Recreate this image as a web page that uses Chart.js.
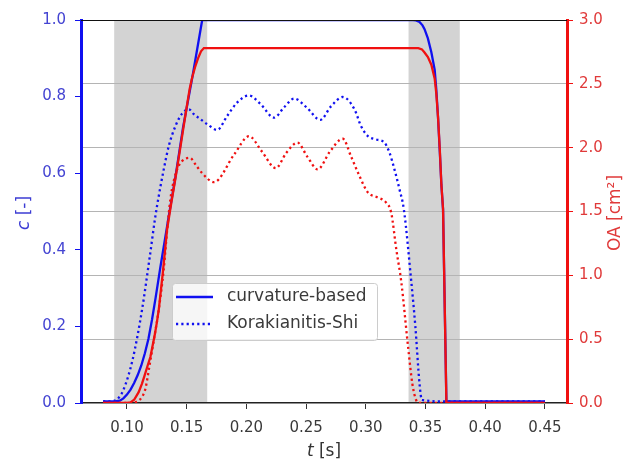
<!DOCTYPE html>
<html>
<head>
<meta charset="utf-8">
<script src="https://cdn.jsdelivr.net/npm/chart.js@4.4.1/dist/chart.umd.min.js"></script>
<style>
  html, body { margin: 0; padding: 0; background: #fff; }
</style>
</head>
<body>
<canvas id="grafico" width="632" height="461"></canvas>
<script>
// c [-] curvature-based
const tCurvC = [0.08, 0.09, 0.094, 0.097, 0.10, 0.103, 0.106, 0.109, 0.112, 0.115, 0.118, 0.121, 0.124, 0.128,
                0.135, 0.1406, 0.147, 0.155, 0.163, 0.25, 0.3395, 0.342, 0.345, 0.3475, 0.3492, 0.352, 0.3549,
                0.3577, 0.359, 0.3605, 0.362, 0.3633, 0.3647, 0.3675, 0.40, 0.45];
const cCurv  = [0.004, 0.004, 0.006, 0.012, 0.022, 0.035, 0.052, 0.073, 0.098, 0.13, 0.168, 0.218, 0.275, 0.355,
                0.488, 0.59, 0.72, 0.855, 1.0, 1.0, 1.0, 0.999, 0.995, 0.986, 0.976, 0.952, 0.916,
                0.87, 0.82, 0.745, 0.655, 0.57, 0.505, 0.004, 0.004, 0.004];

// c [-] Korakianitis-Shi
const tKsC = [0.08, 0.088, 0.092, 0.097, 0.1047, 0.1126, 0.119, 0.1238, 0.1266, 0.1308, 0.135, 0.1406, 0.146, 0.1518,
              0.156, 0.1616, 0.1672, 0.1756, 0.184, 0.1924, 0.2022, 0.212, 0.2232, 0.2316, 0.240, 0.251, 0.2618,
              0.271, 0.2807, 0.2905, 0.296, 0.3017, 0.3087, 0.3156, 0.3198, 0.324, 0.3282, 0.3319, 0.338, 0.3415,
              0.345, 0.347, 0.3675, 0.45];
const cKs  = [0.004, 0.005, 0.01, 0.034, 0.113, 0.243, 0.38, 0.488, 0.54, 0.61, 0.671, 0.723, 0.755, 0.767,
              0.754, 0.741, 0.728, 0.713, 0.75, 0.785, 0.803, 0.78, 0.745, 0.772, 0.795, 0.77, 0.739,
              0.775, 0.799, 0.767, 0.723, 0.697, 0.688, 0.68, 0.654, 0.61, 0.558, 0.505, 0.32, 0.2,
              0.05, 0.008, 0.004, 0.004];

// OA [cm²] curvature-based
const tCurvOA = [0.08, 0.10, 0.103, 0.106, 0.1098, 0.1125, 0.1146, 0.1172, 0.1196, 0.1215, 0.1232, 0.125, 0.1266,
                 0.13, 0.1336, 0.137, 0.1406, 0.144, 0.147, 0.1504, 0.1525, 0.1546, 0.157, 0.1595, 0.162, 0.1644,
                 0.25, 0.344, 0.347, 0.3492, 0.352, 0.3549, 0.3577, 0.359, 0.3605, 0.362, 0.3633, 0.3647,
                 0.3675, 0.40, 0.45];
const oaCurv  = [0.0, 0.0, 0.005, 0.025, 0.085, 0.15, 0.21, 0.29, 0.36, 0.45, 0.53, 0.63, 0.73,
                 1.02, 1.36, 1.56, 1.76, 1.96, 2.14, 2.34, 2.46, 2.55, 2.63, 2.70, 2.755, 2.78,
                 2.78, 2.78, 2.77, 2.745, 2.71, 2.65, 2.54, 2.43, 2.24, 1.98, 1.71, 1.52,
                 0.0, 0.0, 0.0];

// OA [cm²] Korakianitis-Shi
const tKsOA = [0.08, 0.10, 0.104, 0.108, 0.112, 0.1154, 0.119, 0.1226, 0.1266, 0.1308, 0.1336, 0.1364, 0.1392, 0.142,
               0.1462, 0.1526, 0.158, 0.163, 0.1728, 0.19, 0.2022, 0.213, 0.2246, 0.2335, 0.2428, 0.251, 0.2597,
               0.270, 0.2807, 0.2877, 0.2946, 0.3017, 0.31, 0.317, 0.3213, 0.3256, 0.3297, 0.3353, 0.339, 0.3423,
               0.345, 0.3675, 0.45];
const oaKs  = [0.0, 0.0, 0.002, 0.01, 0.04, 0.11, 0.3, 0.5, 0.73, 1.05, 1.35, 1.6, 1.74, 1.83,
               1.895, 1.92, 1.86, 1.80, 1.73, 1.95, 2.09, 1.97, 1.84, 1.96, 2.04, 1.93, 1.83,
               1.97, 2.07, 1.93, 1.78, 1.65, 1.61, 1.57, 1.49, 1.20, 0.95, 0.45, 0.15, 0.02,
               0.0, 0.0, 0.0];

// zonas sombreadas (inicio / fin en t)
const shadeStart = [0.0893, 0.3358];
const shadeEnd   = [0.1672, 0.3787];

const xTicks  = [0.10, 0.15, 0.20, 0.25, 0.30, 0.35, 0.40, 0.45];
const cTicks  = [0.0, 0.2, 0.4, 0.6, 0.8, 1.0];
const oaTicks = [0.0, 0.5, 1.0, 1.5, 2.0, 2.5, 3.0];
const legendNames = ['curvature-based', 'Korakianitis-Shi'];

const AZUL = '#1010f0';
const ROJO = '#f01010';
const FUENTE = 'DejaVu Sans';
const PUNTEADO = [2.2, 3.1];

function puntos(ts, vs) {
    return ts.map((t, i) => ({ x: t, y: vs[i] }));
}

// Sombreado gris por debajo de la rejilla
const sombreado = {
    id: 'sombreado',
    beforeDraw(chart) {
        const { ctx, chartArea, scales } = chart;
        ctx.save();
        ctx.fillStyle = '#d3d3d3';
        shadeStart.forEach((t0, i) => {
            const x0 = scales.x.getPixelForValue(t0);
            const x1 = scales.x.getPixelForValue(shadeEnd[i]);
            ctx.fillRect(x0, chartArea.top, x1 - x0, chartArea.bottom - chartArea.top);
        });
        ctx.restore();
    }
};

// Texto con una primera letra en cursiva (t, c)
function textoMixto(ctx, cursiva, resto, cx, cy, size) {
    ctx.font = 'italic ' + size + 'px ' + FUENTE;
    const w1 = ctx.measureText(cursiva).width;
    ctx.font = size + 'px ' + FUENTE;
    const w2 = ctx.measureText(resto).width;
    const x = cx - (w1 + w2) / 2;
    ctx.textAlign = 'left';
    ctx.textBaseline = 'middle';
    ctx.font = 'italic ' + size + 'px ' + FUENTE;
    ctx.fillText(cursiva, x, cy);
    ctx.font = size + 'px ' + FUENTE;
    ctx.fillText(resto, x + w1, cy);
}

// Borde superior, títulos de los ejes y leyenda
const extras = {
    id: 'extras',
    afterDraw(chart) {
        const { ctx, chartArea } = chart;
        ctx.save();

        // borde superior
        ctx.strokeStyle = '#111';
        ctx.lineWidth = 1.2;
        ctx.beginPath();
        ctx.moveTo(chartArea.left, chartArea.top + 0.5);
        ctx.lineTo(chartArea.right, chartArea.top + 0.5);
        ctx.stroke();

        const midY = (chartArea.top + chartArea.bottom) / 2 + 1.5;
        const midX = (chartArea.left + chartArea.right) / 2;

        // título eje x
        ctx.fillStyle = '#333';
        textoMixto(ctx, 't', ' [s]', midX, 452, 17);

        // título eje izquierdo
        ctx.save();
        ctx.translate(25, midY);
        ctx.rotate(-Math.PI / 2);
        ctx.fillStyle = '#3c3cd4';
        textoMixto(ctx, 'c', ' [-]', 0, 0, 17);
        ctx.restore();

        // título eje derecho
        ctx.save();
        ctx.translate(616, midY);
        ctx.rotate(-Math.PI / 2);
        ctx.fillStyle = '#e03a3a';
        ctx.font = '17px ' + FUENTE;
        ctx.textAlign = 'center';
        ctx.textBaseline = 'middle';
        ctx.fillText('OA [cm²]', 0, 0);
        ctx.restore();

        // leyenda
        const bx = 172.5, by = 283.5, bw = 205, bh = 57;
        ctx.fillStyle = 'rgba(255,255,255,0.8)';
        ctx.strokeStyle = '#cccccc';
        ctx.lineWidth = 1;
        ctx.beginPath();
        ctx.roundRect(bx, by, bw, bh, 3);
        ctx.fill();
        ctx.stroke();

        const filas = [297, 324];
        legendNames.forEach((nombre, i) => {
            ctx.strokeStyle = AZUL;
            ctx.lineWidth = 2.3;
            ctx.setLineDash(i === 0 ? [] : PUNTEADO);
            ctx.beginPath();
            ctx.moveTo(176, filas[i]);
            ctx.lineTo(213, filas[i]);
            ctx.stroke();
            ctx.setLineDash([]);
            ctx.fillStyle = '#3a3a3a';
            ctx.font = '17px ' + FUENTE;
            ctx.textAlign = 'left';
            ctx.textBaseline = 'middle';
            ctx.fillText(nombre, 227, filas[i]);
        });

        ctx.restore();
    }
};

// trazos continuos: segmentos rectos; punteados: suavizados
const continua = { pointRadius: 0, borderWidth: 2.3, fill: false, tension: 0 };
const punteada = { pointRadius: 0, borderWidth: 2.3, fill: false, cubicInterpolationMode: 'monotone', borderDash: PUNTEADO };

new Chart(document.getElementById('grafico'), {
    type: 'line',
    data: {
        datasets: [
            { ...continua, label: 'OA curvature-based', data: puntos(tCurvOA, oaCurv), borderColor: ROJO, yAxisID: 'y1', order: 0 },
            { ...punteada, label: 'OA Korakianitis-Shi', data: puntos(tKsOA, oaKs), borderColor: ROJO, yAxisID: 'y1', order: 1 },
            { ...continua, label: 'c curvature-based', data: puntos(tCurvC, cCurv), borderColor: AZUL, yAxisID: 'y', order: 2 },
            { ...punteada, label: 'c Korakianitis-Shi', data: puntos(tKsC, cKs), borderColor: AZUL, yAxisID: 'y', order: 3 }
        ]
    },
    options: {
        responsive: false,
        animation: false,
        devicePixelRatio: 1,
        layout: { padding: { top: 20, left: 0, right: 0, bottom: 0 } },
        plugins: {
            legend: { display: false },
            tooltip: { enabled: false }
        },
        scales: {
            x: {
                type: 'linear',
                position: 'bottom',
                min: 0.0615,
                max: 0.4685,
                afterBuildTicks: s => { s.ticks = xTicks.map(v => ({ value: v })); },
                afterFit: s => { s.height = 58; },
                ticks: {
                    callback: v => v.toFixed(2),
                    color: '#3a3a3a',
                    font: { family: FUENTE, size: 15 },
                    padding: 10,
                    maxRotation: 0,
                    autoSkip: false
                },
                grid: { drawOnChartArea: false, tickLength: 6, tickColor: '#333', tickWidth: 1 },
                border: { color: '#222', width: 1.2 }
            },
            y: {
                position: 'left',
                min: 0,
                max: 1,
                afterBuildTicks: s => { s.ticks = cTicks.map(v => ({ value: v })); },
                afterFit: s => { s.width = 81; },
                ticks: {
                    callback: v => v.toFixed(1),
                    color: '#4444d2',
                    font: { family: FUENTE, size: 15 },
                    padding: 9
                },
                grid: { drawOnChartArea: false, tickLength: 6, tickColor: AZUL, tickWidth: 1 },
                border: { color: AZUL, width: 3 }
            },
            y1: {
                position: 'right',
                min: 0,
                max: 3,
                afterBuildTicks: s => { s.ticks = oaTicks.map(v => ({ value: v })); },
                afterFit: s => { s.width = 65; },
                ticks: {
                    callback: v => v.toFixed(1),
                    color: '#e03a3a',
                    font: { family: FUENTE, size: 15 },
                    padding: 6
                },
                grid: { drawOnChartArea: true, color: '#b4b4b4', lineWidth: 1, tickLength: 6, tickColor: ROJO, tickWidth: 1 },
                border: { color: ROJO, width: 3 }
            }
        }
    },
    plugins: [sombreado, extras]
});
</script>
</body>
</html>
